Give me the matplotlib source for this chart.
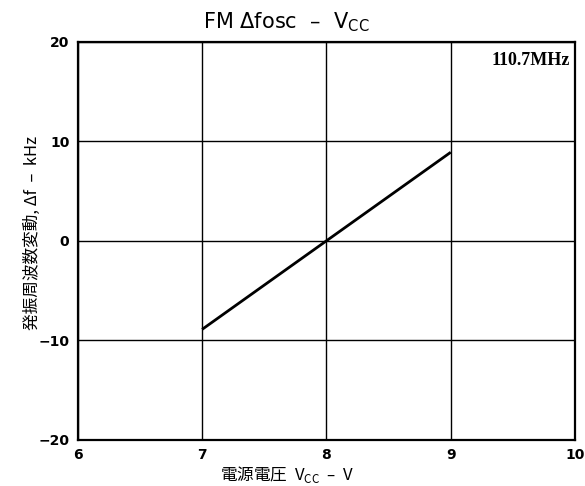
import matplotlib
matplotlib.use("Agg")
import matplotlib.pyplot as plt

# supply voltage vs oscillator frequency drift
vcc = [7, 8, 9]
dfosc = [-8.9, 0.0, 8.9]

x_ticks = [6, 7, 8, 9, 10]
y_ticks = [-20, -10, 0, 10, 20]

plt.rcParams['font.family'] = ['Noto Sans CJK JP', 'DejaVu Sans']

fig = plt.figure(figsize=(5.85, 4.86), dpi=100)
ax = fig.add_axes([0.133, 0.095, 0.850, 0.819])

ax.plot(vcc, dfosc, color='black', lw=2.0, solid_capstyle='butt')

ax.set_xlim(6, 10)
ax.set_ylim(-20, 20)
ax.set_xticks(x_ticks)
ax.set_yticks(y_ticks)
ax.set_xticklabels([str(t) for t in x_ticks], fontweight='bold', fontsize=10,
                   family='DejaVu Sans')
ax.set_yticklabels(['\u221220', '\u221210', '0', '10', '20'], fontweight='bold',
                   fontsize=10, family='DejaVu Sans')
ax.tick_params(length=0, pad=6)
ax.grid(True, color='black', lw=1.0)
for s in ax.spines.values():
    s.set_linewidth(1.6)
    s.set_color('black')

ax.text(0.99, 0.975, '110.7MHz', transform=ax.transAxes, ha='right', va='top',
        fontsize=13, family='Liberation Serif', fontweight='bold')

fig.text(0.49, 0.955, 'FM \u0394fosc  \u2013  V$_{\\mathregular{CC}}$', ha='center',
         va='center', fontsize=15, family='DejaVu Sans')
fig.text(0.055, 0.52, '発振周波数変動, \u0394f  \u2013  kHz', rotation=90,
         ha='center', va='center', fontsize=12)
fig.text(0.49, 0.002, '電源電圧  V$_{\\mathregular{CC}}$  \u2013  V', ha='center',
         va='bottom', fontsize=12)

fig.savefig('out.png', dpi=100)
